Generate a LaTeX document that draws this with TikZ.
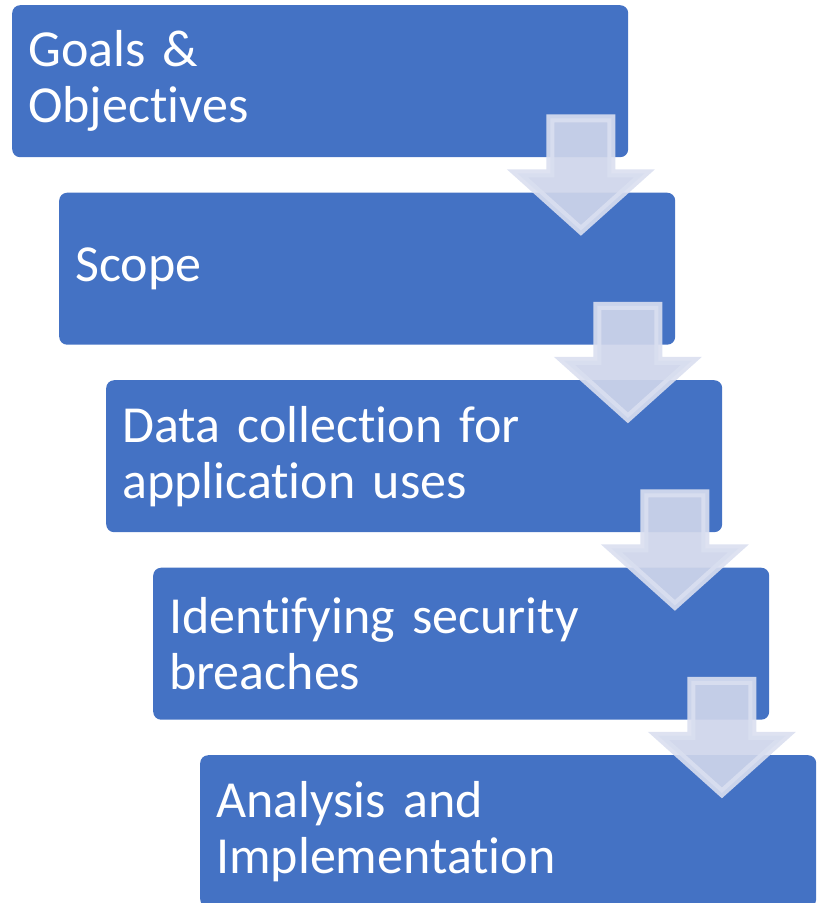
\documentclass[tikz,border=0pt]{standalone}
\usepackage{fontspec}
\setmainfont{Carlito}[Ligatures=NoCommon]
\usetikzlibrary{calc,positioning}
\definecolor{boxblue}{RGB}{68,114,196}
\definecolor{arrowfill}{RGB}{206,213,234}
\definecolor{arrowline}{RGB}{218,223,240}
\newcommand{\stagefont}{\fontsize{52}{56}\selectfont\spaceskip=10pt\relax}
\tikzset{
  stage/.style={rounded corners=8pt, fill=boxblue, text=white,
    minimum width=616pt, minimum height=152pt, text width=584pt,
    inner sep=16pt, align=left, anchor=north west,
    font=\stagefont},
  flowarrow/.style={fill=arrowfill, fill opacity=.92,
    draw=arrowline, draw opacity=.9, line width=8pt, line join=miter}
}
% shaft top left corner given, then the head below it
\newcommand{\stagearrow}[1]{%
  \draw[flowarrow] ($(#1.south east)+(-78,-39)$) -- ++(61,0) -- ++(0,55)
    -- ++(33,0) -- ++(-63.5,57) -- ++(-63.5,-57) -- ++(33,0) -- cycle;}

\begin{document}
\begin{tikzpicture}[x=1pt,y=-1pt]
\useasboundingbox (0,0) rectangle (817,903);
\node[stage] (goals) at (12,5) {Goals \&\\Objectives};
\node[stage] (scope) at (59,192.5) {Scope};
\node[stage] (data) at (106,380) {Data collection for\\application uses};
\node[stage] (breach) at (153,567.5) {Identifying security\\breaches};
\node[stage] (impl) at (200,755) {Analysis and\\Implementation};
\stagearrow{goals}
\stagearrow{scope}
\stagearrow{data}
\stagearrow{breach}
\end{tikzpicture}
\end{document}
